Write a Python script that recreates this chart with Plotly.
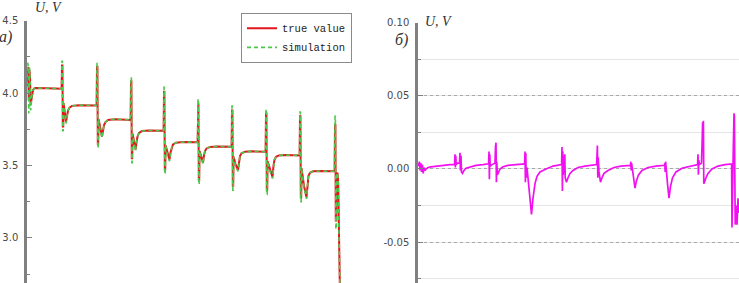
import plotly.graph_objects as go

# ---------------- panel a) : true value vs simulation ----------------
t_true = [0, 0.6, 1.2, 1.8, 2.4, 3.0, 3.6, 4.4, 5.2, 6.0, 7.0, 8.0, 20, 34.6,
          35.0, 35.4, 35.8, 36.2, 36.6, 37.6, 39.0, 40.0, 41.0, 42.5, 45, 52, 69.6,
          70.0, 70.4, 70.8, 71.2, 71.6, 73, 75, 76, 77, 78.5, 81, 88, 103.6,
          104.0, 104.4, 104.8, 105.2, 105.6, 107, 108.5, 109.5, 110.5, 112, 115, 122, 136.6,
          137.0, 137.4, 137.8, 138.2, 138.6, 140.5, 142.5, 143.5, 144.5, 146, 149, 156, 170.6,
          171.0, 171.4, 171.8, 172.2, 172.6, 174.5, 176, 177, 178, 179.5, 183, 190, 204.6,
          205.0, 205.4, 205.8, 206.2, 206.6, 208.5, 211, 212, 213, 214.5, 218, 225, 238.6,
          239.0, 239.4, 239.8, 240.2, 240.6, 243, 245.5, 246.5, 247.5, 249, 252, 259, 272.6,
          273.0, 273.4, 273.8, 274.2, 274.6, 277, 279.5, 280.5, 281.5, 283, 286, 293, 307.6,
          308.0, 308.4, 308.8, 309.2, 309.6, 310.5, 311.2, 311.8, 312.4, 313]
u_true = [4.05, 4.18, 4.17, 3.95, 4.16, 4.12, 3.92, 3.96, 4.00, 4.02, 4.03, 4.035, 4.033, 4.03,
          4.19, 4.19, 3.77, 3.77, 3.93, 3.86, 3.80, 3.84, 3.88, 3.90, 3.912, 3.917, 3.915,
          4.18, 4.18, 3.65, 3.65, 3.82, 3.76, 3.70, 3.74, 3.78, 3.80, 3.815, 3.82, 3.815,
          4.08, 4.08, 3.55, 3.55, 3.72, 3.66, 3.61, 3.66, 3.70, 3.725, 3.738, 3.742, 3.74,
          4.01, 4.01, 3.47, 3.47, 3.64, 3.58, 3.54, 3.59, 3.62, 3.645, 3.658, 3.662, 3.66,
          3.93, 3.93, 3.40, 3.40, 3.60, 3.56, 3.52, 3.57, 3.60, 3.618, 3.628, 3.632, 3.63,
          3.88, 3.88, 3.36, 3.36, 3.56, 3.51, 3.47, 3.53, 3.565, 3.585, 3.595, 3.598, 3.595,
          3.86, 3.86, 3.33, 3.33, 3.53, 3.47, 3.42, 3.50, 3.54, 3.56, 3.57, 3.572, 3.57,
          3.84, 3.84, 3.28, 3.28, 3.48, 3.36, 3.28, 3.38, 3.43, 3.45, 3.46, 3.462, 3.46,
          3.78, 3.78, 3.12, 3.12, 3.44, 3.45, 3.38, 3.20, 2.95, 2.60]

t_sim = t_true
u_sim = [4.06, 4.21, 4.19, 3.86, 4.18, 4.13, 3.88, 3.95, 4.00, 4.02, 4.03, 4.035, 4.033, 4.03,
         4.22, 4.22, 3.74, 3.74, 3.93, 3.85, 3.79, 3.84, 3.88, 3.90, 3.912, 3.917, 3.915,
         4.21, 4.21, 3.62, 3.62, 3.82, 3.75, 3.69, 3.74, 3.78, 3.80, 3.815, 3.82, 3.815,
         4.11, 4.11, 3.52, 3.52, 3.72, 3.65, 3.60, 3.66, 3.70, 3.725, 3.738, 3.742, 3.74,
         4.04, 4.04, 3.44, 3.44, 3.64, 3.57, 3.53, 3.59, 3.62, 3.645, 3.658, 3.662, 3.66,
         3.96, 3.96, 3.37, 3.37, 3.60, 3.55, 3.51, 3.57, 3.60, 3.618, 3.628, 3.632, 3.63,
         3.91, 3.91, 3.33, 3.33, 3.56, 3.50, 3.46, 3.53, 3.565, 3.585, 3.595, 3.598, 3.595,
         3.89, 3.89, 3.30, 3.30, 3.53, 3.46, 3.41, 3.50, 3.54, 3.56, 3.57, 3.572, 3.57,
         3.87, 3.87, 3.25, 3.25, 3.48, 3.35, 3.27, 3.38, 3.43, 3.45, 3.46, 3.462, 3.46,
         3.84, 3.84, 3.06, 3.06, 3.44, 3.45, 3.38, 3.20, 2.95, 2.60]

# ---------------- panel б) : difference ----------------
t_diff = [0, 0.7, 1.4, 2.1, 2.8, 3.6, 4.4, 5.2, 6.0, 7.0, 8.0, 10, 13, 18, 25, 32, 36.6,
          37.0, 37.4, 37.8, 38.2, 39.5, 41.5, 42.0, 42.4, 43.0, 43.5, 44.5, 46, 48, 52, 58, 65, 70.6,
          71.0, 71.4, 71.8, 72.2, 74, 77, 77.5, 78.0, 78.4, 78.8, 79.4, 80.5, 82, 85, 90, 98, 106.6,
          107.0, 107.4, 107.8, 108.2, 109, 111, 113.5, 115, 117, 119, 122, 128, 135, 143.6,
          144.0, 144.4, 144.8, 145.2, 146, 146.8, 147.2, 148.5, 150, 152, 155, 160, 167, 174, 178.6,
          179.0, 179.4, 179.8, 180.2, 181, 182.5, 184, 186, 190, 196, 203, 212.0,
          212.5, 212.8, 213.2, 213.6, 214.2, 215.5, 217, 218.5, 220.5, 224, 230, 238, 246.5,
          246.8, 247.2, 247.6, 248, 249.5, 251, 252.5, 254.5, 258, 264, 272, 279.6,
          280.0, 280.4, 280.8, 281.5, 283.5, 284.2, 284.6, 285.0, 285.4, 285.8, 286.5, 288, 290, 294, 300, 307, 313.6,
          314.0, 314.4, 315.2, 316.0, 316.4, 317.2, 318.0, 319, 320, 321]
u_diff = [0.004, 0.002, 0.005, -0.001, 0.004, -0.002, 0.003, -0.003, 0.001, -0.001, 0.0, 0.001, 0.0015, 0.002, 0.0025, 0.003, 0.003,
          0.010, 0.001, 0.009, 0.003, 0.004, 0.004, 0.011, -0.001, 0.009, -0.002, -0.003, -0.001, 0.0005, 0.0015, 0.0025, 0.003, 0.0035,
          0.012, -0.007, 0.010, 0.002, 0.003, 0.004, 0.015, 0.018, -0.009, 0.005, -0.004, -0.002, 0.0, 0.0015, 0.0025, 0.003, 0.0035,
          0.012, -0.009, 0.011, -0.006, 0.001, -0.012, -0.031, -0.020, -0.010, -0.005, -0.002, 0.0, 0.002, 0.003,
          0.015, -0.015, 0.012, -0.004, 0.003, 0.010, -0.006, -0.009, -0.006, -0.003, -0.001, 0.001, 0.002, 0.0028, 0.003,
          0.009, 0.016, -0.006, 0.008, -0.002, -0.009, -0.006, -0.003, -0.001, 0.001, 0.002, 0.0025,
          0.002, 0.005, -0.001, 0.004, 0.001, -0.006, -0.013, -0.008, -0.004, -0.001, 0.001, 0.002, 0.0025,
          0.004, -0.002, 0.005, 0.0, -0.010, -0.020, -0.012, -0.006, -0.002, 0.0005, 0.002, 0.003,
          0.010, -0.004, 0.006, 0.003, 0.004, 0.020, 0.032, 0.025, 0.033, -0.010, -0.009, -0.006, -0.003, 0.0, 0.002, 0.003, 0.0035,
          -0.040, 0.0, 0.010, 0.038, 0.036, -0.038, -0.025, -0.038, -0.020, -0.030]

left_tickvals = [3.0, 3.5, 4.0, 4.5]
left_ticktext = ["3.0", "3.5", "4.0", "4.5"]
right_tickvals = [-0.05, 0.0, 0.05, 0.10]
right_ticktext = ["-0.05", "0.00", "0.05", "0.10"]
right_dashed_grid = [-0.05, 0.0, 0.05]
series_names = ["true value", "simulation"]

W, H = 739, 283
fig = go.Figure()

fig.add_trace(go.Scatter(x=t_true, y=u_true, mode="lines", name=series_names[0],
                         line=dict(color="#e3161d", width=2), xaxis="x", yaxis="y"))
fig.add_trace(go.Scatter(x=t_sim, y=u_sim, mode="lines", name=series_names[1],
                         line=dict(color="#4cc84c", width=1.6, dash="4px,3px"), xaxis="x", yaxis="y"))
# empty trace only to activate the overlay axis that carries the dashed grid
fig.add_trace(go.Scatter(x=[], y=[], mode="lines", showlegend=False, hoverinfo="skip",
                         xaxis="x2", yaxis="y3"))
fig.add_trace(go.Scatter(x=t_diff, y=u_diff, mode="lines", showlegend=False,
                         line=dict(color="#f010f0", width=1.7), xaxis="x2", yaxis="y2"))

tickfont = dict(family="DejaVu Sans, Verdana", size=10, color="#4a4a4a")
r2 = [-0.0779, 0.10]

fig.update_layout(
    width=W, height=H, margin=dict(l=0, r=0, t=0, b=0),
    paper_bgcolor="white", plot_bgcolor="white", showlegend=True,
    xaxis=dict(domain=[27 / W, 355 / W], range=[0, 328], visible=False, anchor="y"),
    yaxis=dict(domain=[0, 1 - 15 / H], range=[2.689, 4.5], anchor="x",
               showline=True, linecolor="#808080", linewidth=2.5,
               showgrid=False, zeroline=False,
               tickmode="array", tickvals=left_tickvals, ticktext=left_ticktext,
               ticks="inside", ticklen=5, tickcolor="#808080", tickwidth=1.2,
               ticklabelstandoff=4, tickfont=tickfont,
               minor=dict(dtick=0.25, tick0=0, ticks="inside", ticklen=3,
                          tickcolor="#808080", showgrid=False)),
    xaxis2=dict(domain=[418 / W, 1.0], range=[0, 321], visible=False, anchor="y2"),
    yaxis2=dict(domain=[0, 1 - 17 / H], range=r2, anchor="x2",
                showline=True, linecolor="#808080", linewidth=2.5,
                showgrid=False, zeroline=False,
                tickmode="array", tickvals=right_tickvals, ticktext=right_ticktext,
                ticks="inside", ticklen=5, tickcolor="#808080", tickwidth=1.2,
                ticklabelstandoff=4, tickfont=tickfont,
                minor=dict(dtick=0.025, tick0=0, ticks="inside", ticklen=3,
                           tickcolor="#808080", showgrid=True,
                           gridcolor="#e6e6e6", gridwidth=1)),
    yaxis3=dict(overlaying="y2", anchor="x2", range=r2, tickmode="array",
                tickvals=right_dashed_grid, showticklabels=False, ticks="",
                showline=False, zeroline=False, showgrid=True,
                gridcolor="#a8a8a8", gridwidth=1, griddash="3px,3px"),
    legend=dict(x=352 / W, xanchor="right", y=1 - 7 / H, yanchor="top",
                bgcolor="white", bordercolor="#8a8a8a", borderwidth=1,
                font=dict(family="Liberation Mono, Courier New", size=10.5, color="#222222"),
                tracegroupgap=0, itemwidth=30),
)

ann_font = dict(family="Liberation Serif, Times New Roman", size=14, color="#333333")
fig.add_annotation(x=33 / W, y=1 - 2 / H, xref="paper", yref="paper", text="<i>U, V</i>",
                   showarrow=False, xanchor="left", yanchor="middle", font=ann_font)
fig.add_annotation(x=-3 / W, y=1 - 32 / H, xref="paper", yref="paper", text="<i>а)</i>",
                   showarrow=False, xanchor="left", yanchor="middle", font=dict(ann_font, size=16))
fig.add_annotation(x=423 / W, y=1 - 16 / H, xref="paper", yref="paper", text="<i>U, V</i>",
                   showarrow=False, xanchor="left", yanchor="middle", font=ann_font)
fig.add_annotation(x=393 / W, y=1 - 35 / H, xref="paper", yref="paper", text="<i>б)</i>",
                   showarrow=False, xanchor="left", yanchor="middle", font=dict(ann_font, size=16))

fig.write_html("out.html", config={"displayModeBar": False},
               post_script="document.body.style.margin='0';")
